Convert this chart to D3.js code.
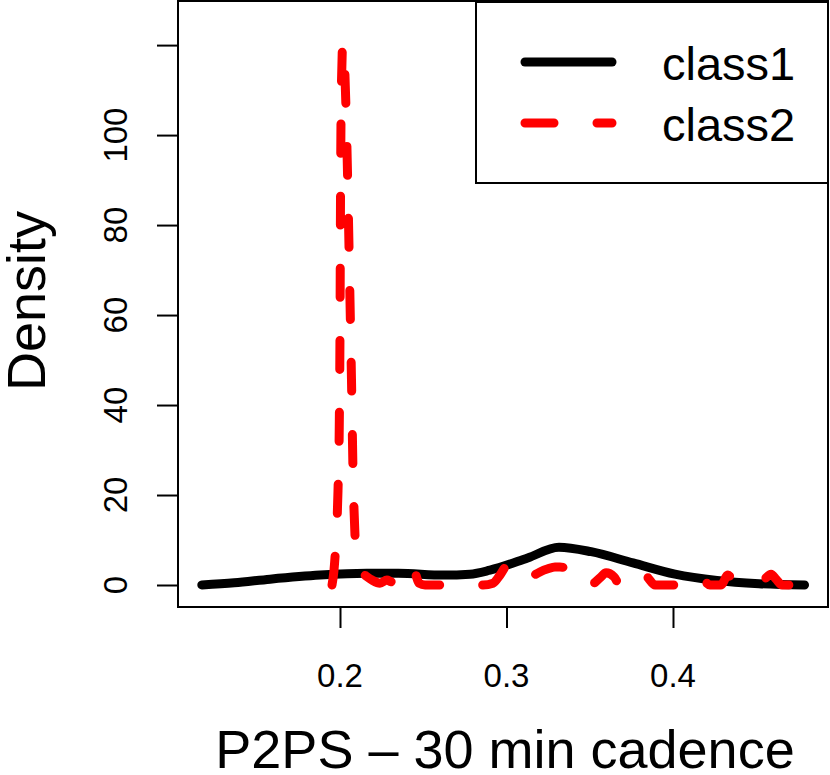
<!DOCTYPE html>
<html>
<head>
<meta charset="utf-8">
<script src="https://cdn.jsdelivr.net/npm/d3@7"></script>
<style>
	body { margin: 0; background: #fff; }
	svg text { font-family: "Liberation Sans", Arial, Helvetica, sans-serif; fill: #000; }
</style>
</head>
<body>
<svg id="main-plot"></svg>
<script>
// density curves: x = P2PS value, y = density
var class1X = [0.117, 0.1365, 0.158, 0.188, 0.216, 0.235, 0.2622, 0.278, 0.2901, 0.3127, 0.3315, 0.3508, 0.376, 0.4012, 0.4264, 0.4517, 0.479];
var class1Y = [0.0, 0.5, 1.3, 2.2, 2.6, 2.6, 2.2, 2.4, 3.3, 6.0, 8.4, 7.4, 4.9, 2.4, 1.0, 0.3, 0.0];

var class2X = [0.1952, 0.1964, 0.1976, 0.1988, 0.1996, 0.2000, 0.2003, 0.2009, 0.2018, 0.2030, 0.2042, 0.2051, 0.2060, 0.2069, 0.2078, 0.2090, 0.2102, 0.2126, 0.2156, 0.2192, 0.2240,
	0.2282, 0.2312, 0.2342, 0.2384, 0.2432, 0.2456, 0.2474, 0.2511, 0.2601, 0.2697, 0.2859, 0.2919, 0.2961, 0.3003, 0.3039, 0.3075, 0.3105, 0.3141, 0.3201, 0.3249, 0.3291,
	0.3321, 0.3351, 0.3381, 0.3405, 0.3502, 0.3562, 0.3598, 0.3646, 0.3682, 0.3748, 0.3772, 0.3814, 0.3850, 0.3892, 0.3976, 0.4066, 0.4114, 0.4150, 0.4186, 0.4222,
	0.4288, 0.4330, 0.4366, 0.4432, 0.4523, 0.4559, 0.4589, 0.4619, 0.4655, 0.470];
var class2Y = [0, 3.3, 10, 21, 36.7, 56.7, 85.6, 112, 120.7, 113, 96.7, 81, 63.3, 45.6, 25.6, 11.1, 5.6, 2.9, 2.0, 1.1, 0.4,
	1.1, 0.7, 1.1, 3.3, 4.9, 2.2, 0.4, 0, 0, 0, 0, 0.4, 2.2, 4.2, 3.8, 1.1, 0.7, 1.6, 2.9, 3.6, 4.0,
	4.0, 3.8, 1.1, 0, 0, 1.6, 2.7, 1.8, 0, 0, 1.8, 2.9, 1.6, 0, 0, 0, 1.8, 2.7, 1.1, 0,
	0, 2.2, 0.7, 0, 0, 1.6, 2.4, 1.3, 0, 0];

var xTicks = [0.2, 0.3, 0.4];
var yTicks = [0, 20, 40, 60, 80, 100, 120];
var yTickLabels = ['0', '20', '40', '60', '80', '100', ''];   // top label not drawn in the original
var seriesNames = ['class1', 'class2'];
var seriesColors = ['#000000', '#ff0000'];

window.onload = function init() {
	'use strict';

	var width = 830,
		height = 775,
		box = {left: 178, right: 828, top: 1, bottom: 607},
		svg = d3.select('svg#main-plot').attr('width', width).attr('height', height);

	var x = d3.scaleLinear().domain([0.1027, 0.4931]).range([box.left, box.right]),
		y = d3.scaleLinear().domain([-4.89, 129.8]).range([box.bottom, box.top]);

	var line = d3.line()
		.x(function(d) { return x(d[0]); })
		.y(function(d) { return y(d[1]); })
		.curve(d3.curveMonotoneX);

	var c1 = d3.zip(class1X, class1Y),
		c2 = d3.zip(class2X, class2Y);

	// curves (clipped to plot box)
	svg.append('clipPath').attr('id', 'clip')
		.append('rect').attr('x', box.left).attr('y', box.top)
		.attr('width', box.right - box.left).attr('height', box.bottom - box.top);

	var plot = svg.append('g').attr('clip-path', 'url(#clip)');
	plot.append('path').datum(c1)
		.attr('d', line)
		.attr('fill', 'none')
		.attr('stroke', seriesColors[0])
		.attr('stroke-width', 9)
		.attr('stroke-linecap', 'round')
		.attr('stroke-linejoin', 'round');
	plot.append('path').datum(c2)
		.attr('d', line)
		.attr('fill', 'none')
		.attr('stroke', seriesColors[1])
		.attr('stroke-width', 9)
		.attr('stroke-dasharray', '29,43')
		.attr('stroke-linecap', 'round')
		.attr('stroke-linejoin', 'round');

	// box
	svg.append('rect')
		.attr('x', box.left).attr('y', box.top)
		.attr('width', box.right - box.left).attr('height', box.bottom - box.top)
		.attr('fill', 'none').attr('stroke', '#000').attr('stroke-width', 2);

	// axes
	var xAxis = svg.append('g').attr('transform', 'translate(0,' + box.bottom + ')')
		.call(d3.axisBottom(x).tickValues(xTicks).tickSize(21).tickFormat(''));
	var yAxis = svg.append('g').attr('transform', 'translate(' + box.left + ',0)')
		.call(d3.axisLeft(y).tickValues(yTicks).tickSize(21).tickFormat(''));
	[xAxis, yAxis].forEach(function(a) {
		a.select('.domain').remove();
		a.selectAll('line').attr('stroke', '#000').attr('stroke-width', 2);
	});

	svg.append('g').selectAll('text').data(xTicks).enter()
		.append('text')
		.attr('x', function(d) { return x(d); })
		.attr('y', 687)
		.attr('text-anchor', 'middle')
		.attr('font-size', 33)
		.text(function(d) { return d3.format('.1f')(d); });

	svg.append('g').selectAll('text').data(yTicks).enter()
		.append('text')
		.attr('transform', function(d) { return 'translate(127,' + y(d) + ') rotate(-90)'; })
		.attr('text-anchor', 'middle')
		.attr('font-size', 33)
		.text(function(d, i) { return yTickLabels[i]; });

	// axis titles
	svg.append('text')
		.attr('x', 505)
		.attr('y', 768)
		.attr('text-anchor', 'middle')
		.attr('font-size', 54)
		.text('P2PS \u2013 30 min cadence');

	svg.append('text')
		.attr('transform', 'translate(45,' + 301 + ') rotate(-90)')
		.attr('text-anchor', 'middle')
		.attr('font-size', 54)
		.text('Density');

	// legend
	var legend = svg.append('g');
	legend.append('rect')
		.attr('x', 476).attr('y', 2)
		.attr('width', box.right - 476).attr('height', 181)
		.attr('fill', '#fff').attr('stroke', '#000').attr('stroke-width', 2);

	var rows = legend.selectAll('g.row').data(seriesNames).enter()
		.append('g').attr('class', 'row')
		.attr('transform', function(d, i) { return 'translate(0,' + (62 + i * 61) + ')'; });
	rows.append('line')
		.attr('x1', 525).attr('x2', 612)
		.attr('stroke', function(d, i) { return seriesColors[i]; })
		.attr('stroke-width', 9)
		.attr('stroke-linecap', 'round')
		.attr('stroke-dasharray', function(d, i) { return i ? '29,43' : null; });
	rows.append('text')
		.attr('x', 662).attr('y', 18)
		.attr('font-size', 47)
		.text(function(d) { return d; });
};
</script>
</body>
</html>
